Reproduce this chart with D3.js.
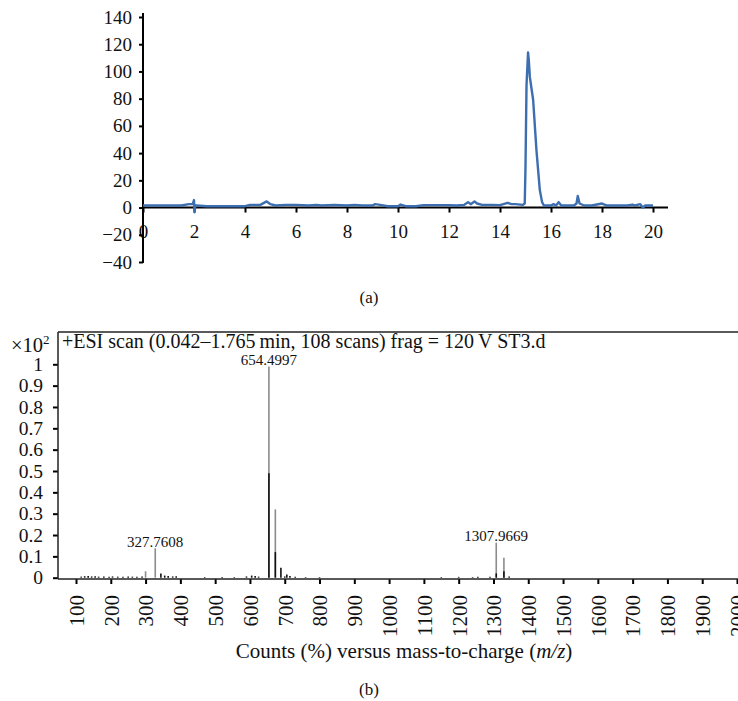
<!DOCTYPE html>
<html>
<head>
<meta charset="utf-8">
<script src="https://cdn.jsdelivr.net/npm/d3@7"></script>
<style>
body { margin:0; background:#fff; }
text { font-family:"Liberation Serif","DejaVu Serif",serif; fill:#111; }
</style>
</head>
<body>
<svg width="738" height="701"></svg>
<script>
// (a) chromatogram - time (min) vs signal
var chromTime = [0,0.5,1.0,1.5,1.8,1.95,2.0,2.02,2.05,2.1,2.5,3.0,3.5,4.0,4.2,4.6,4.85,5.0,5.2,5.6,6.0,6.5,6.8,7.0,7.5,8.0,8.3,8.6,9.0,9.1,9.3,9.6,10.0,10.1,10.3,10.7,11.0,11.5,12.0,12.3,12.6,12.75,12.85,13.0,13.1,13.3,13.7,14.0,14.3,14.45,14.6,14.9,14.97,15.0,15.04,15.1,15.13,15.17,15.3,15.43,15.56,15.65,15.72,16.0,16.1,16.2,16.3,16.4,16.6,16.9,17.0,17.05,17.12,17.3,17.6,18.0,18.05,18.2,18.6,19.0,19.2,19.3,19.5,19.6,19.7,20.0];
var chromSignal = [1.5,1.5,1.5,1.5,2.5,2.5,5.5,-3.5,1.5,1.5,1,1,1,1,2,2,4.5,2.5,1.5,2,2,1.5,2,1.5,2,1.5,2,1.5,1.5,2.5,2,1,1,2.2,1,1,1.8,1.8,1.8,1.5,2,4,2.5,4.5,3,2,2,1.8,3.5,2.5,2.5,2,3,30,90,114,108,96,79,42,13,4,1.5,1.5,2.5,1.5,4,1.5,1.5,1.5,3,8.5,3,1.5,1.5,3,2.5,1.5,1.5,1.5,2.2,1.5,2.5,0,1.5,1.5];
var chromXTicks = [0,2,4,6,8,10,12,14,16,18,20];
var chromYTicks = [-40,-20,0,20,40,60,80,100,120,140];

// (b) mass spectrum - grey and black sticks
var mzGrey = [300,327.76,654.50,673,1307.97,1330];
var intGrey = [0.03,0.138,0.99,0.32,0.164,0.094];
var mzBlack = [654.50,673,689,706,344,1308,1330,115,125,135,145,155,165,180,195,205,220,235,250,262,275,290,355,365,378,388,470,520,555,590,605,615,625,700,715,730,760,800,1150,1200,1240,1255,1290,1345];
var intBlack = [0.49,0.12,0.047,0.015,0.02,0.02,0.03,0.005,0.007,0.008,0.006,0.007,0.005,0.006,0.004,0.006,0.005,0.004,0.006,0.005,0.004,0.006,0.01,0.008,0.006,0.007,0.003,0.003,0.003,0.006,0.01,0.008,0.005,0.006,0.008,0.004,0.003,0.003,0.003,0.004,0.003,0.004,0.005,0.006];
var peakLabels = ["327.7608","654.4997","1307.9669"];
var peakMz = [327.76,654.50,1307.97];
var peakInt = [0.138,0.99,0.164];
var mzTicks = [100,200,300,400,500,600,700,800,900,1000,1100,1200,1300,1400,1500,1600,1700,1800,1900,2000];
var countTicks = [0,0.1,0.2,0.3,0.4,0.5,0.6,0.7,0.8,0.9,1];

var svg = d3.select('svg');

/* ---------- panel (a) ---------- */
var xa = d3.scaleLinear().domain([0,20]).range([143,653]);
var ya = d3.scaleLinear().domain([-40,140]).range([262,17]);
var ga = svg.append('g');

var xAxisA = ga.append('g')
	.attr('transform','translate(0,' + ya(0) + ')')
	.call(d3.axisBottom(xa).tickValues(chromXTicks).tickSize(5).tickPadding(12).tickSizeOuter(0));
xAxisA.select('.domain').remove();
xAxisA.selectAll('line').attr('stroke','#000').attr('stroke-width',2);
xAxisA.selectAll('text').style('font-size','19px');
ga.append('line')
	.attr('x1',143).attr('x2',668)
	.attr('y1',ya(0)).attr('y2',ya(0))
	.attr('stroke','#000').attr('stroke-width',2);

var yAxisA = ga.append('g')
	.attr('transform','translate(143,0)')
	.call(d3.axisLeft(ya).tickValues(chromYTicks).tickSize(4).tickPadding(7).tickFormat(function(d){ return d < 0 ? '\u2212' + (-d) : d; }));
yAxisA.select('.domain').remove();
yAxisA.selectAll('line').attr('stroke','#000').attr('stroke-width',2);
yAxisA.selectAll('text').style('font-size','19px');
ga.append('line')
	.attr('x1',143).attr('x2',143)
	.attr('y1',13).attr('y2',263)
	.attr('stroke','#000').attr('stroke-width',2);

var chromData = chromTime.map(function(t,i){ return [t, chromSignal[i]]; });
ga.append('path')
	.datum(chromData)
	.attr('fill','none')
	.attr('stroke','#3c6eb0')
	.attr('stroke-width',2.4)
	.attr('stroke-linejoin','round')
	.attr('d', d3.line().x(function(d){ return xa(d[0]); }).y(function(d){ return ya(d[1]); }));

svg.append('text').attr('x',369).attr('y',303).attr('text-anchor','middle').style('font-size','17px').text('(a)');

/* ---------- panel (b) ---------- */
var xb = d3.scaleLinear().domain([100,2000]).range([76,737]);
var yb = d3.scaleLinear().domain([0,1]).range([577.7,364.3]);
var gb = svg.append('g');

// frame: top line and left line
gb.append('line').attr('x1',58).attr('x2',738).attr('y1',332).attr('y2',332).attr('stroke','#222').attr('stroke-width',1.5);

var yAxisB = gb.append('g')
	.attr('transform','translate(58,0)')
	.call(d3.axisLeft(yb).tickValues(countTicks).tickSize(5).tickPadding(10).tickFormat(function(d){ return d === 0 ? '0' : d === 1 ? '1' : d.toFixed(1); }));
yAxisB.select('.domain').remove();
yAxisB.selectAll('line').attr('stroke','#000').attr('stroke-width',2);
yAxisB.selectAll('text').style('font-size','19.5px');
gb.append('line').attr('x1',58).attr('x2',58).attr('y1',332).attr('y2',579).attr('stroke','#222').attr('stroke-width',1.5);

// sticks
gb.selectAll('line.grey').data(mzGrey).enter().append('line')
	.attr('class','grey')
	.attr('x1',function(d){ return xb(d); }).attr('x2',function(d){ return xb(d); })
	.attr('y1',yb(0)).attr('y2',function(d,i){ return yb(intGrey[i]); })
	.attr('stroke','#8c8c8c').attr('stroke-width',1.6);
gb.selectAll('line.black').data(mzBlack).enter().append('line')
	.attr('class','black')
	.attr('x1',function(d){ return xb(d); }).attr('x2',function(d){ return xb(d); })
	.attr('y1',yb(0)).attr('y2',function(d,i){ return yb(intBlack[i]); })
	.attr('stroke','#111').attr('stroke-width',1.6);

var xAxisB = gb.append('g')
	.attr('transform','translate(0,579)')
	.call(d3.axisBottom(xb).tickValues(mzTicks).tickSize(5).tickSizeOuter(0).tickFormat(d3.format('d')));
xAxisB.select('.domain').remove();
xAxisB.selectAll('line').attr('stroke','#000').attr('stroke-width',2);
xAxisB.selectAll('text')
	.attr('transform','rotate(-90)')
	.attr('x',-16).attr('y',0).attr('dy','0.35em')
	.attr('text-anchor','end')
	.style('font-size','21px');
gb.append('line').attr('x1',58).attr('x2',738).attr('y1',579).attr('y2',579).attr('stroke','#222').attr('stroke-width',1.5);

// peak labels
gb.selectAll('text.peak').data(peakLabels).enter().append('text')
	.attr('class','peak')
	.attr('x',function(d,i){ return xb(peakMz[i]); })
	.attr('y',function(d,i){ return yb(peakInt[i]) - 1.5; })
	.attr('text-anchor','middle')
	.style('font-size','15px')
	.text(function(d){ return d; });

// scan title and multiplier
gb.append('text').attr('x',62).attr('y',348).style('font-size','20px')
	.text('+ESI scan (0.042\u20131.765\u2009min, 108 scans) frag = 120\u2009V ST3.d');
var mult = gb.append('text').attr('x',11).attr('y',352).style('font-size','20.5px');
mult.append('tspan').text('\u00d710');
mult.append('tspan').attr('dy',-8).style('font-size','13px').text('2');

var xt = svg.append('text').attr('x',404).attr('y',658).attr('text-anchor','middle').style('font-size','21px');
xt.append('tspan').text('Counts (%) versus mass-to-charge (');
xt.append('tspan').style('font-style','italic').text('m/z');
xt.append('tspan').text(')');

svg.append('text').attr('x',369).attr('y',695).attr('text-anchor','middle').style('font-size','17px').text('(b)');
</script>
</body>
</html>
